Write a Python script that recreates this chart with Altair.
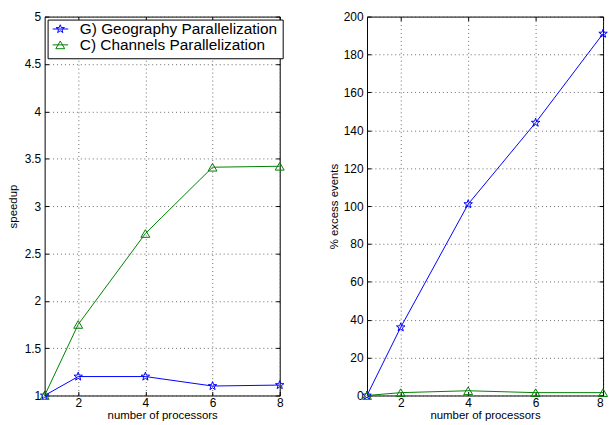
import altair as alt
import pandas as pd

# ---- data ----
procs = [1, 2, 4, 6, 8]
speed_geo = [1.0, 1.2, 1.2, 1.1, 1.11]
speed_chan = [1.0, 1.75, 2.71, 3.41, 3.42]
excess_geo = [0, 36, 101, 144, 191]
excess_chan = [0, 1.5, 2.5, 1.5, 1.5]
series_names = ["G) Geography Parallelization", "C) Channels Parallelization"]
x_ticks = [2, 4, 6, 8]
speed_ticks = [1, 1.5, 2, 2.5, 3, 3.5, 4, 4.5, 5]
excess_ticks = [0, 20, 40, 60, 80, 100, 120, 140, 160, 180, 200]

# ---- styles ----
colors = ["#0000ff", "#008000"]
STAR = ("M0,-1L0.235,-0.324L0.951,-0.309L0.380,0.124L0.588,0.809L0,0.4"
        "L-0.588,0.809L-0.380,0.124L-0.951,-0.309L-0.235,-0.324Z")
shapes = [STAR, "triangle-up"]
FONT = "Liberation Sans"
LEG_FS = 15.5
PLOT_H = 382
marker_names = [n + " " for n in series_names]  # distinct domain for marker legend


def make_df(geo, chan):
    rows = []
    for name, mname, vals in zip(series_names, marker_names, [geo, chan]):
        for x, y in zip(procs, vals):
            rows.append({"x": x, "y": y, "series": name, "series_m": mname})
    return pd.DataFrame(rows)


def panel(df, ydomain, yticks, ytitle, show_legend, width, ytitle_pad, flush):
    base = alt.Chart(df)
    xscale = alt.Scale(domain=[1, 8], nice=False, zero=False)
    yscale = alt.Scale(domain=ydomain, nice=False, zero=False)

    x_main = alt.X("x:Q", scale=xscale, axis=alt.Axis(
        orient="bottom", values=x_ticks, offset=-4, tickSize=4, domain=False,
        grid=True, title="number of processors", labelPadding=2,
        titlePadding=1, format="~r", labelFlush=flush))
    y_main = alt.Y("y:Q", scale=yscale, axis=alt.Axis(
        orient="left", values=yticks, offset=-4, tickSize=4, domain=False,
        grid=True, title=ytitle, labelPadding=4, titlePadding=ytitle_pad,
        format="~r"))
    x_top = alt.X("x:Q", scale=xscale, axis=alt.Axis(
        orient="top", values=x_ticks, offset=-4, tickSize=4, domain=False,
        grid=False, labels=False, title=None))
    y_right = alt.Y("y:Q", scale=yscale, axis=alt.Axis(
        orient="right", values=yticks, offset=-4, tickSize=4, domain=False,
        grid=False, labels=False, title=None))

    if show_legend:
        line_leg = alt.Legend(
            orient="none", legendX=3, legendY=3, title=None,
            symbolType="M-2,0L2,0", symbolSize=64, symbolStrokeWidth=1,
            symbolOffset=0, labelFontSize=LEG_FS, labelFont=FONT, labelColor="black",
            labelOffset=12, labelLimit=400, strokeColor="black", fillColor="white",
            padding=5, rowPadding=0, clipHeight=9, zindex=1)
        pt_leg = alt.Legend(
            orient="none", legendX=3, legendY=3, title=None,
            symbolSize=80, symbolStrokeWidth=1, symbolOffset=0,
            labelFontSize=LEG_FS, labelFont=FONT, labelExpr="''", labelOffset=12,
            padding=5, rowPadding=0, clipHeight=9, zindex=2)
    else:
        line_leg = None
        pt_leg = None

    line = base.mark_line(strokeWidth=1).encode(
        x=x_main, y=y_main,
        color=alt.Color("series:N", scale=alt.Scale(domain=series_names, range=colors),
                        legend=line_leg),
    )
    pts = base.mark_point(filled=False, strokeWidth=1, size=80, opacity=1).encode(
        x=x_top, y=y_right,
        stroke=alt.Stroke("series_m:N", scale=alt.Scale(domain=marker_names, range=colors),
                          legend=pt_leg),
        shape=alt.Shape("series_m:N", scale=alt.Scale(domain=marker_names, range=shapes),
                        legend=pt_leg),
    )
    return alt.layer(line, pts).properties(width=width, height=PLOT_H)


left = panel(make_df(speed_geo, speed_chan), [1, 5], speed_ticks, "speedup",
             True, 237, 6, False)
right = panel(make_df(excess_geo, excess_chan), [0, 200], excess_ticks,
              "% excess events", False, 238, 4, True)

chart = alt.hconcat(left, right, spacing=41).resolve_scale(
    color="independent", stroke="independent", shape="independent"
).properties(
    padding={"left": 6, "top": 8, "right": 0, "bottom": 0},
    background="white",
).configure_view(
    stroke="black", strokeWidth=1
).configure_axis(
    labelFont=FONT, labelFontSize=12, labelColor="black",
    titleFont=FONT, titleFontSize=11.5, titleFontWeight="normal", titleColor="black",
    tickColor="black", tickWidth=1, gridColor="#444", gridDash=[1, 3],
    gridWidth=1, gridOpacity=0.8,
)

chart.save("out.html", embed_options={"renderer": "svg", "actions": False})
